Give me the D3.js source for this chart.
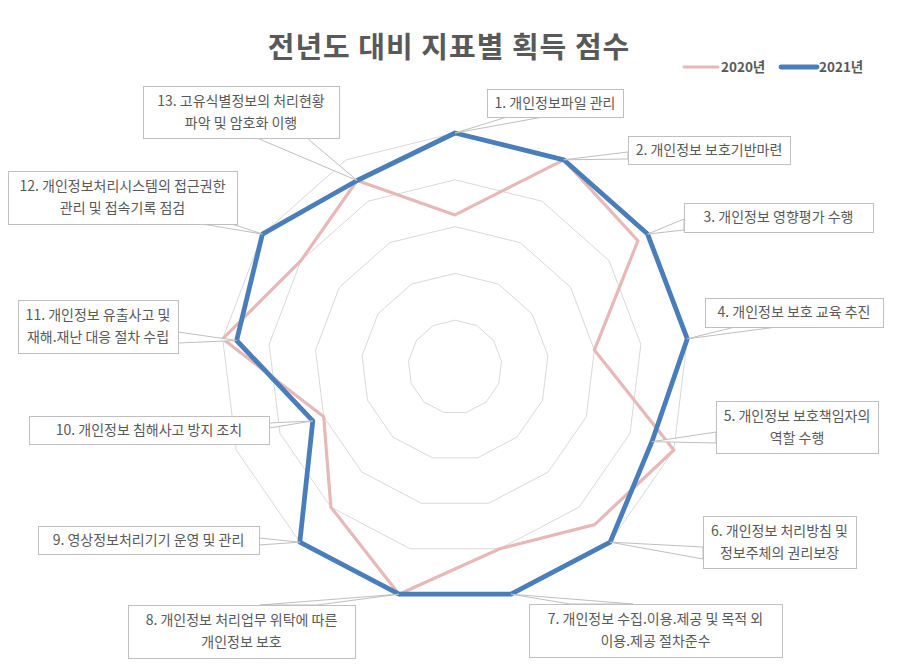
<!DOCTYPE html>
<html>
<head>
<meta charset="utf-8">
<script src="https://cdn.jsdelivr.net/npm/d3@7"></script>
<style>
  body { margin: 0; background: #fff; }
  svg { display: block; font-family: "Noto Sans CJK KR", "Noto Sans", sans-serif; }
</style>
</head>
<body>
<div id="chart"></div>
<script>
// data
const labels = [
  ["1. 개인정보파일 관리"],
  ["2. 개인정보 보호기반마련"],
  ["3. 개인정보 영향평가 수행"],
  ["4. 개인정보 보호 교육 추진"],
  ["5. 개인정보 보호책임자의", "역할 수행"],
  ["6. 개인정보 처리방침 및", "정보주체의 권리보장"],
  ["7. 개인정보 수집.이용.제공 및 목적 외", "이용.제공 절차준수"],
  ["8. 개인정보 처리업무 위탁에 따른", "개인정보 보호"],
  ["9. 영상정보처리기기 운영 및 관리"],
  ["10. 개인정보 침해사고 방지 조치"],
  ["11. 개인정보 유출사고 및", "재해.재난 대응 절차 수립"],
  ["12. 개인정보처리시스템의 접근권한", "관리 및 접속기록 점검"],
  ["13. 고유식별정보의 처리현황", "파악 및 암호화 이행"]
];
const seriesNames = ["2020년", "2021년"];
const values2020 = [65, 100, 95, 60, 100, 90, 80, 100, 80, 60, 100, 80, 90];
const values2021 = [100, 100, 100, 100, 90, 100, 100, 100, 100, 65, 94, 100, 90];
const gridTicks = [20, 40, 60, 80, 100];

// callout box layout (box rect + where the pointer leaves the box)
const callouts = [
  { x: 487, y: 89,  w: 136, h: 28, side: "bottom", a: 507, b: 543 },
  { x: 628, y: 136, w: 162, h: 28, side: "left",   a: 152, b: 159 },
  { x: 684, y: 203, w: 189, h: 29, side: "left",   a: 219, b: 230 },
  { x: 705, y: 298, w: 178, h: 29, side: "bottom", a: 735, b: 777 },
  { x: 716, y: 401, w: 162, h: 52, side: "left",   a: 432, b: 443 },
  { x: 703, y: 516, w: 153, h: 52, side: "left",   a: 547, b: 559 },
  { x: 529, y: 604, w: 253, h: 53, side: "top",    a: 570, b: 633 },
  { x: 128, y: 605, w: 227, h: 53, side: "top",    a: 260, b: 317 },
  { x: 38,  y: 526, w: 221, h: 28, side: "right",  a: 538, b: 545 },
  { x: 29,  y: 416, w: 240, h: 28, side: "right",  a: 423, b: 428 },
  { x: 18,  y: 300, w: 160, h: 53, side: "right",  a: 332, b: 343 },
  { x: 8,   y: 171, w: 229, h: 53, side: "bottom", a: 202, b: 232 },
  { x: 143, y: 86,  w: 196, h: 52, side: "bottom", a: 257, b: 307 }
];

const width = 900, height = 664;
const cx = 455, cy = 367, R = 234;
const textColor = "#595959";
const colors = ["#e6b9b8", "#4a7ebb"];

const svg = d3.select("#chart").append("svg")
  .attr("width", width)
  .attr("height", height);

svg.append("rect").attr("width", width).attr("height", height).attr("fill", "#fff");

// title
svg.append("text")
  .attr("x", 449)
  .attr("y", 58)
  .attr("text-anchor", "middle")
  .attr("font-size", 29)
  .attr("font-weight", "bold")
  .attr("letter-spacing", 1)
  .attr("fill", textColor)
  .text("전년도 대비 지표별 획득 점수");

// scales
const n = labels.length;
const r = d3.scaleLinear().domain([0, 100]).range([0, R]);
const angle = d3.scaleLinear().domain([0, n]).range([0, 2 * Math.PI]);

const g = svg.append("g").attr("transform", `translate(${cx},${cy})`);

// grid rings
const ring = d3.lineRadial()
  .angle((d, i) => angle(i))
  .radius(d => r(d))
  .curve(d3.curveLinearClosed);

g.selectAll("path.grid")
  .data(gridTicks)
  .enter()
  .append("path")
  .attr("class", "grid")
  .attr("d", t => ring(d3.range(n).map(() => t)))
  .attr("fill", "none")
  .attr("stroke", "#d9d9d9")
  .attr("stroke-width", 1);

// series
const line = d3.lineRadial()
  .angle((d, i) => angle(i))
  .radius(d => r(d))
  .curve(d3.curveLinearClosed);

const series = [values2020, values2021];
const widths = [3.2, 4.8];

g.selectAll("path.series")
  .data(series)
  .enter()
  .append("path")
  .attr("class", "series")
  .attr("d", d => line(d))
  .attr("fill", "none")
  .attr("stroke", (d, i) => colors[i])
  .attr("stroke-width", (d, i) => widths[i])
  .attr("stroke-linejoin", "round");

// data callouts (on 2021 series)
function pointOf(i, v) {
  const a = angle(i);
  return [cx + r(v) * Math.sin(a), cy - r(v) * Math.cos(a)];
}

callouts.forEach((c, i) => {
  const tip = pointOf(i, values2021[i]);
  let p1, p2;
  if (c.side === "bottom") { p1 = [c.a, c.y + c.h]; p2 = [c.b, c.y + c.h]; }
  else if (c.side === "top") { p1 = [c.a, c.y]; p2 = [c.b, c.y]; }
  else if (c.side === "left") { p1 = [c.x, c.a]; p2 = [c.x, c.b]; }
  else { p1 = [c.x + c.w, c.a]; p2 = [c.x + c.w, c.b]; }

  const cg = svg.append("g");
  cg.append("path")
    .attr("d", `M${p1[0]},${p1[1]}L${tip[0]},${tip[1]}L${p2[0]},${p2[1]}Z`)
    .attr("fill", "#fff")
    .attr("stroke", "#bfbfbf")
    .attr("stroke-width", 1);
  cg.append("rect")
    .attr("x", c.x + 0.5)
    .attr("y", c.y + 0.5)
    .attr("width", c.w)
    .attr("height", c.h)
    .attr("fill", "#fff")
    .attr("stroke", "#bfbfbf")
    .attr("stroke-width", 1);

  const lines = labels[i];
  const lh = 22;
  const y0 = c.y + c.h / 2 - (lines.length - 1) * lh / 2;
  lines.forEach((t, k) => {
    cg.append("text")
      .attr("x", c.x + c.w / 2)
      .attr("y", y0 + k * lh)
      .attr("dy", "0.35em")
      .attr("text-anchor", "middle")
      .attr("font-size", 14)
      .attr("fill", textColor)
      .text(t);
  });
});

// legend
const legend = [
  { x1: 684, x2: 718, tx: 721 },
  { x1: 781, x2: 817, tx: 819 }
];
legend.forEach((l, i) => {
  svg.append("line")
    .attr("x1", l.x1).attr("x2", l.x2)
    .attr("y1", 67).attr("y2", 67)
    .attr("stroke", colors[i])
    .attr("stroke-width", widths[i])
    .attr("stroke-linecap", "round");
  svg.append("text")
    .attr("x", l.tx)
    .attr("y", 67)
    .attr("dy", "0.35em")
    .attr("font-size", 13.5)
    .attr("font-weight", "bold")
    .attr("fill", textColor)
    .text(seriesNames[i]);
});
</script>
</body>
</html>
